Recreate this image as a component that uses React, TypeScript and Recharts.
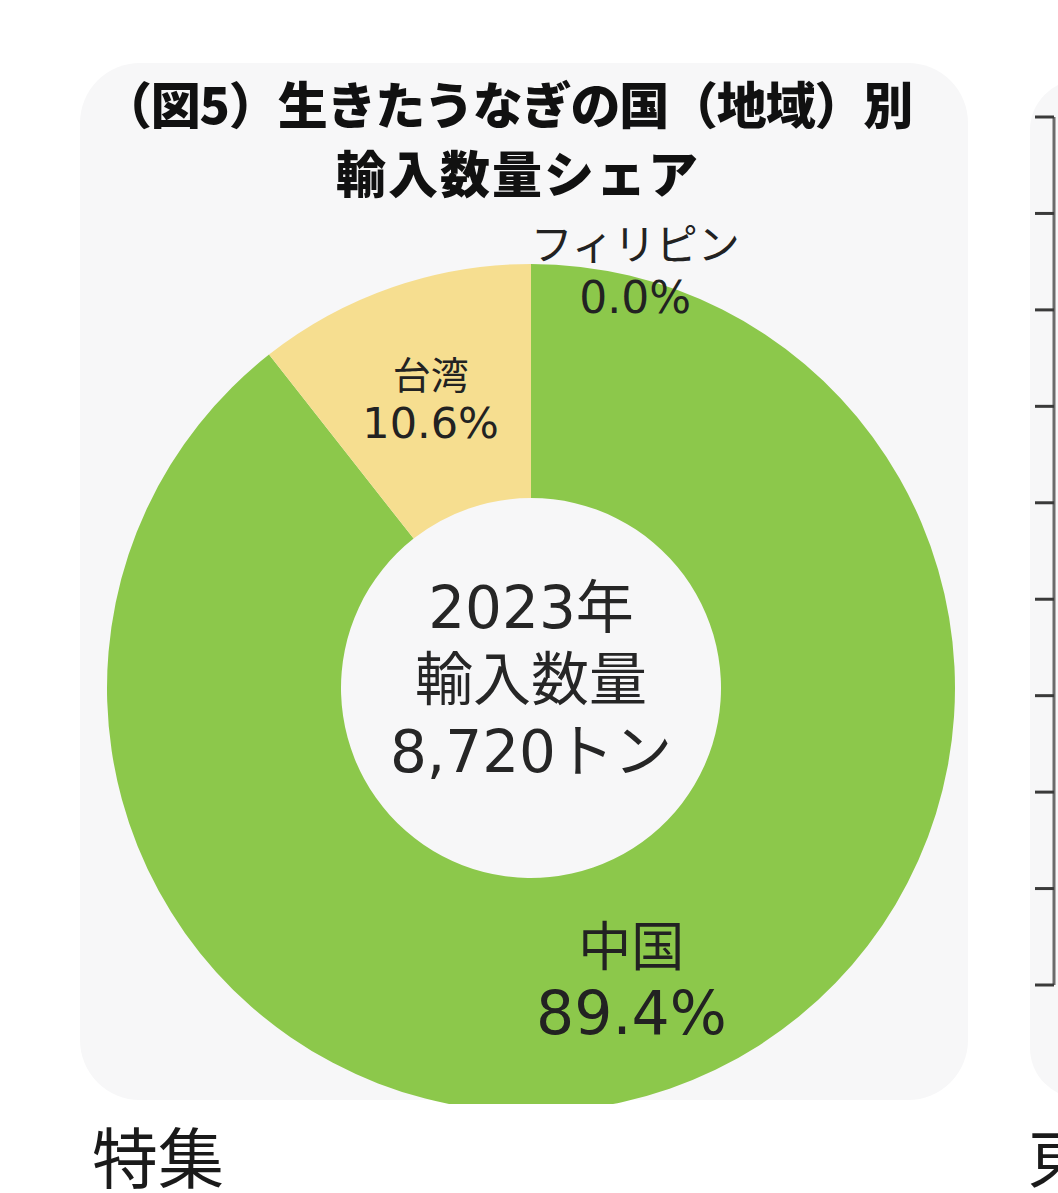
import { PieChart, Pie, Cell, BarChart, Bar, YAxis, XAxis } from 'recharts'

// 生きたうなぎの国（地域）別 輸入数量シェア, 2023年
const countries = ['中国', '台湾', 'フィリピン']
const shares = [89.4, 10.6, 0.0]
const totalTons = '8,720'
const year = '2023'

// partial neighbour chart on the right edge (only its axis is visible)
const neighbourTicks = [0, 10, 20, 30, 40, 50, 60, 70, 80, 90]
const neighbourValues = [0]

const sliceColors = ['#8cc84b', '#f6de90', '#5b9bd5']
const labelStyle = [
  { name: 53, value: 60, gap: 35 },
  { name: 38, value: 43, gap: 25 },
  { name: 42, value: 44, gap: 28 },
]

const pieData = countries.map((name, i) => ({ name, share: shares[i] }))
const neighbourData = neighbourValues.map((v) => ({ v }))

const FONT = '"DejaVu Sans", "Noto Sans CJK JP", sans-serif'
const CJK = '"Noto Sans CJK JP", sans-serif'
const RAD = Math.PI / 180

function polar(cx: number, cy: number, r: number, angle: number) {
  return { x: cx + r * Math.cos(-angle * RAD), y: cy + r * Math.sin(-angle * RAD) }
}

function CenterText({ cx, cy }: { cx: number; cy: number }) {
  const lines = [`${year}年`, '輸入数量', `${totalTons}トン`]
  return (
    <text textAnchor="middle" fontFamily={FONT} fontSize={58} fill="#262626">
      {lines.map((t, i) => (
        <tspan key={i} x={cx} y={cy - 80 + i * 72} dominantBaseline="central">
          {t}
        </tspan>
      ))}
    </text>
  )
}

function renderSliceLabel(p: any) {
  const { cx, cy, midAngle, innerRadius, outerRadius, index } = p
  const outside = shares[index] === 0
  const pos = outside
    ? polar(cx, cy, outerRadius + 7, midAngle - 14)
    : polar(cx, cy, (innerRadius + outerRadius) / 2, midAngle)
  const st = labelStyle[index]
  return (
    <g key={`lbl-${index}`}>
      {index === 0 && <CenterText cx={cx} cy={cy} />}
      <text
        x={pos.x}
        y={pos.y - st.gap}
        textAnchor="middle"
        dominantBaseline="central"
        fontFamily={CJK}
        fontSize={st.name}
        fill="#222"
      >
        {countries[index]}
      </text>
      <text
        x={pos.x}
        y={pos.y + st.gap}
        textAnchor="middle"
        dominantBaseline="central"
        fontFamily={FONT}
        fontSize={st.value}
        fill="#222"
      >
        {`${shares[index].toFixed(1)}%`}
      </text>
    </g>
  )
}

export default function App() {
  return (
    <div
      style={{
        position: 'absolute',
        left: 0,
        top: 0,
        width: 1058,
        height: 1193,
        overflow: 'hidden',
        background: '#ffffff',
      }}
    >
      {/* left card */}
      <div
        style={{
          position: 'absolute',
          left: 80,
          top: 63,
          width: 888,
          height: 1037,
          borderRadius: 60,
          background: '#f7f7f8',
        }}
      />
      {/* right card */}
      <div
        style={{
          position: 'absolute',
          left: 1030,
          top: 80,
          width: 120,
          height: 1018,
          borderRadius: 50,
          background: '#f7f7f8',
        }}
      />

      <div
        style={{
          position: 'absolute',
          left: 118,
          top: 68,
          width: 800,
          textAlign: 'center',
          fontFamily: CJK,
          fontWeight: 900,
          fontSize: 50,
          lineHeight: '69px',
          color: '#111',
          whiteSpace: 'nowrap',
        }}
      >
        <div style={{ letterSpacing: -1.2, position: 'relative', left: -16 }}>（図5）生きたうなぎの国（地域）別</div>
        <div style={{ letterSpacing: 2 }}>輸入数量シェア</div>
      </div>

      <div style={{ position: 'absolute', left: 0, top: 0, width: 1058, height: 1104, overflow: 'hidden' }}>
        <PieChart width={1058} height={1104} margin={{ top: 0, right: 0, bottom: 0, left: 0 }}>
          <Pie
            data={pieData}
            dataKey="share"
            nameKey="name"
            cx={531}
            cy={688}
            innerRadius={190}
            outerRadius={424}
            startAngle={90}
            endAngle={-270}
            stroke="none"
            labelLine={false}
            label={renderSliceLabel}
            isAnimationActive={false}
          >
            {pieData.map((entry, i) => (
              <Cell key={entry.name} fill={sliceColors[i]} stroke="none" />
            ))}
          </Pie>
        </PieChart>
      </div>

      <div style={{ position: 'absolute', left: 1000, top: 0, width: 200, height: 1104 }}>
        <BarChart
          width={200}
          height={1104}
          data={neighbourData}
          margin={{ top: 117, right: 0, bottom: 119, left: 0 }}
        >
          <XAxis hide />
          <YAxis
            type="number"
            domain={[0, 90]}
            ticks={neighbourTicks}
            interval={0}
            width={54}
            tickSize={19}
            tick={() => <g />}
            axisLine={{ stroke: '#6b6b6b', strokeWidth: 3 }}
            tickLine={{ stroke: '#3a3a3a', strokeWidth: 3 }}
          />
          <Bar dataKey="v" fill="#c9b38a" isAnimationActive={false} />
        </BarChart>
      </div>

      <div
        style={{
          position: 'absolute',
          left: 92,
          top: 1118,
          fontFamily: CJK,
          fontSize: 66,
          lineHeight: '72px',
          color: '#1a1a1a',
        }}
      >
        特集
      </div>
      <div
        style={{
          position: 'absolute',
          left: 1028,
          top: 1118,
          fontFamily: CJK,
          fontSize: 66,
          lineHeight: '72px',
          color: '#1a1a1a',
        }}
      >
        東
      </div>
    </div>
  )
}
